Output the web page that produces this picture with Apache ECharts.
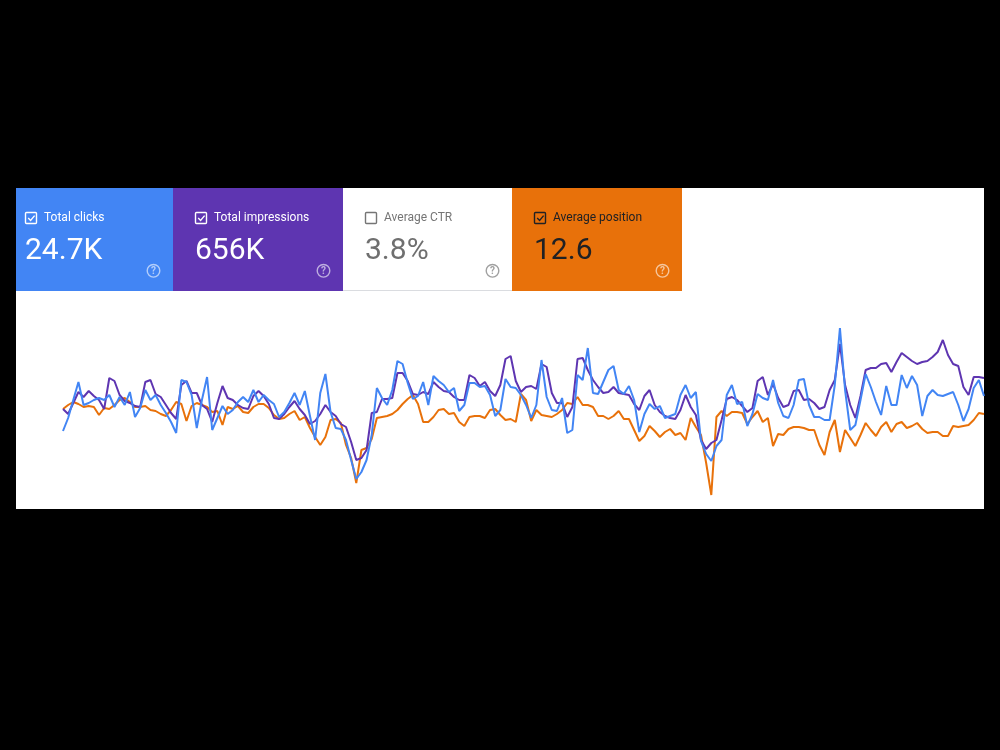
<!DOCTYPE html>
<html>
<head>
<meta charset="utf-8">
<script src="https://cdn.jsdelivr.net/npm/echarts@6/dist/echarts.min.js"></script>
<style>
  html, body { margin: 0; padding: 0; background: #000; }
  #chart { width: 1000px; height: 750px; }
</style>
</head>
<body>
<div id="chart"></div>
<script>
// summary cards
var cardLabels = ['Total clicks', 'Total impressions', 'Average CTR', 'Average position'];
var cardValues = ['24.7K', '656K', '3.8%', '12.6'];
var cardChecked = [true, true, false, true];

// daily values, 180 days
var clicks = [77,90,108,126,103,105,108,110,108,113, 101,111,103,116,91,100,118,108,113,103,
  95,86,75,128,126,113,80,108,131,78, 90,102,94,98,106,111,106,118,106,113,
  108,104,91,96,105,115,103,117,92,68, 115,134,96,80,79,68,48,29,36,48,
  73,120,110,103,118,147,144,125,109,112, 126,103,132,127,123,116,120,97,103,125,
  125,121,122,113,92,98,129,121,120,113, 103,90,103,148,111,98,97,110,75,78,
  133,128,160,115,114,126,138,142,118,114, 122,108,76,94,104,99,102,90,92,94,
  113,123,110,116,67,54,47,62,68,113, 123,104,106,82,94,114,110,108,128,105,
  92,90,103,128,129,103,91,91,88,88, 123,180,118,78,83,108,134,121,106,93,
  122,103,103,133,120,132,123,92,112,118, 113,112,114,116,103,87,99,120,128,112];

var impressions = [2970,2820,3150,3480,3330,3510,3360,3240,2970,3900,
  3810,3390,3210,3150,3060,3030,3780,3840,3420,3330, 3090,2850,2670,3690,3810,3450,3450,3090,2970,2580,
  3150,3660,3300,3240,3090,3000,2970,3360,3510,3360, 3120,2700,2670,2820,3030,3210,2970,2790,2520,2610,
  2820,3090,2880,2760,2520,2430,1980,1440,1500,1740, 2850,2880,3270,3270,3300,4050,4050,3810,3420,3390,
  3480,3420,3780,3630,3510,3480,3330,3240,3240,3990, 3900,3660,3780,3510,3360,3690,4470,4560,3810,3480,
  3630,3660,3570,4320,4230,3450,3150,3150,2730,3030, 4470,4500,4140,3840,3630,3450,3480,3630,3450,3420,
  3390,3120,2940,3360,3540,3090,2880,2760,2700,2670, 2940,3390,3030,2790,2040,1770,1950,2040,2640,3270,
  3330,3240,3060,2880,3000,3810,3930,3390,3720,3300, 3030,3090,3510,3540,3240,3270,3150,2970,3030,3540,
  3840,4920,3690,3090,2700,3360,4140,4200,4200,4320, 4350,4080,4380,4650,4530,4410,4320,4380,4410,4530,
  4680,5040,4590,4320,4260,3630,3390,3930,3930,3900];

var position = [10.9,10.5,10.2,10.4,10.7,10.6,10.7,11.5,10.8,10.9, 10.5,10.0,9.8,10.2,10.7,10.7,10.6,11.0,11.1,11.4,
  11.6,11.0,10.2,10.4,12.1,10.6,10.3,10.5,10.7,11.2, 11.1,12.5,10.7,10.9,10.6,11.2,11.3,10.7,10.4,10.4,
  10.8,11.5,11.9,11.8,11.4,11.1,12.0,11.7,12.8,13.7, 14.5,13.7,12.0,11.9,12.3,14.5,15.8,18.3,15.0,14.8,
  13.9,11.8,11.7,11.6,11.4,11.0,10.4,9.9,9.5,10.4, 12.2,12.2,11.7,11.0,10.9,11.4,11.3,12.2,12.6,11.7,
  11.6,11.6,11.8,11.0,10.9,11.5,12.0,11.9,12.2,9.4, 10.0,12.1,11.0,11.5,11.6,11.7,11.4,11.0,10.3,10.4,
  9.7,10.5,10.5,10.7,11.6,11.6,11.9,11.6,11.1,11.9, 11.9,13.0,14.1,13.6,12.6,13.1,13.7,13.2,12.9,13.5,
  13.3,14.0,11.8,12.7,13.5,16.3,19.5,11.7,11.1,11.6, 11.2,11.2,11.3,12.4,11.7,11.1,12.2,11.8,14.6,13.4,
  13.5,12.9,12.7,12.7,12.8,13.0,13.0,14.5,15.5,13.2, 12.0,15.2,13.0,13.8,14.6,13.5,12.3,13.0,13.6,12.7,
  12.2,13.2,12.4,12.2,12.8,12.6,12.3,12.9,13.3,13.2, 13.2,13.6,13.6,12.6,12.7,12.6,12.5,12.0,11.3,11.4];

// day labels for the hidden x axis
var days = [];
var start = new Date(2020, 0, 1);
for (var i = 0; i < clicks.length; i++) {
  var d = new Date(start.getTime() + i * 86400000);
  days.push((d.getMonth() + 1) + '/' + d.getDate());
}

var chart = echarts.init(document.getElementById('chart'));

// card look; the first card is cut off on the left, so its content origin is left of the panel
var cardBox = [
  { origin: 3, left: 16, right: 173, fill: '#4285F4', fg: '#ffffff', value: '#ffffff', help: 'rgba(255,255,255,0.6)' },
  { origin: 173, left: 173, right: 343, fill: '#5E35B1', fg: '#ffffff', value: '#ffffff', help: 'rgba(255,255,255,0.6)' },
  { origin: 343, left: 343, right: 512, fill: '#ffffff', fg: '#757575', value: '#6f6f6f', help: '#a0a0a0' },
  { origin: 512, left: 512, right: 682, fill: '#E8710A', fg: '#202124', value: '#202124', help: 'rgba(255,255,255,0.6)' }
];

var graphics = [
  { type: 'rect', z: 0, shape: { x: 16, y: 188, width: 968, height: 321 }, style: { fill: '#ffffff' } }
];

cardBox.forEach(function (c, k) {
  var o = c.origin;
  graphics.push({ type: 'rect', z: 1, shape: { x: c.left, y: 188, width: c.right - c.left, height: 103 }, style: { fill: c.fill } });
  graphics.push({ type: 'rect', z: 2, shape: { x: o + 22.5, y: 212.5, width: 11, height: 11, r: 1 },
    style: { fill: 'none', stroke: c.fg, lineWidth: 1.4 } });
  if (cardChecked[k]) {
    graphics.push({ type: 'polyline', z: 2, shape: { points: [[o + 25.2, 218], [o + 27.6, 220.4], [o + 31.6, 215.6]] },
      style: { fill: 'none', stroke: c.fg, lineWidth: 1.4 } });
  }
  graphics.push({ type: 'text', z: 2, x: o + 41, y: 217.5,
    style: { text: cardLabels[k], font: '12px Roboto', fill: c.fg, verticalAlign: 'middle', textVerticalAlign: 'middle' } });
  graphics.push({ type: 'text', z: 2, x: o + 22, y: 251,
    style: { text: cardValues[k], font: '30px Roboto', fill: c.value, verticalAlign: 'middle', textVerticalAlign: 'middle' } });
  graphics.push({ type: 'circle', z: 2, shape: { cx: c.right - 19.5, cy: 270.8, r: 6.3 },
    style: { fill: 'none', stroke: c.help, lineWidth: 1.4 } });
  graphics.push({ type: 'text', z: 2, x: c.right - 19.5, y: 271.3,
    style: { text: '?', font: 'bold 10px Roboto', fill: c.help, align: 'center', textAlign: 'center',
      verticalAlign: 'middle', textVerticalAlign: 'middle' } });
});
graphics.push({ type: 'line', z: 2, shape: { x1: 343, y1: 290.5, x2: 512, y2: 290.5 }, style: { stroke: '#dadce0', lineWidth: 1 } });

var option = {
  animation: false,
  backgroundColor: '#000000',
  graphic: graphics,
  grid: { left: 63, right: 16, top: 300, bottom: 242 },
  xAxis: { type: 'category', data: days, boundaryGap: false, show: false },
  yAxis: [
    { type: 'value', min: 0, max: 208, show: false },
    { type: 'value', min: 0, max: 6240, show: false },
    { type: 'value', min: 0, max: 20.8, inverse: true, show: false }
  ],
  series: [
    { name: 'Average position', type: 'line', yAxisIndex: 2, data: position, symbol: 'none',
      lineStyle: { color: '#E8710A', width: 2 }, itemStyle: { color: '#E8710A' } },
    { name: 'Total impressions', type: 'line', yAxisIndex: 1, data: impressions, symbol: 'none',
      lineStyle: { color: '#5E35B1', width: 2 }, itemStyle: { color: '#5E35B1' } },
    { name: 'Total clicks', type: 'line', yAxisIndex: 0, data: clicks, symbol: 'none',
      lineStyle: { color: '#4285F4', width: 2 }, itemStyle: { color: '#4285F4' } }
  ]
};
chart.setOption(option);
</script>
</body>
</html>
